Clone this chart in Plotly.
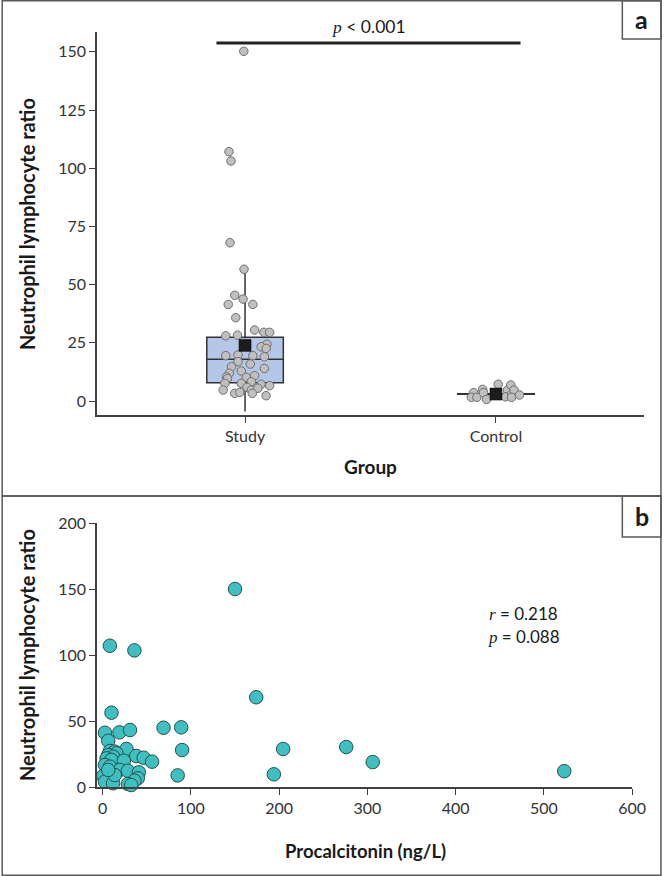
import plotly.graph_objects as go

# ---------------- data ----------------
groups = ["Study", "Control"]
group_pos = [0, 1]

study_nlr = [150.2, 107.1, 103.1, 68.0, 56.6, 45.4, 43.8, 41.5, 41.5, 35.8,
             30.5, 29.5, 29.5, 28.0, 28.3, 24.4, 23.3, 22.6, 19.5, 19.8,
             19.5, 19.0, 16.9, 15.9, 14.7, 14.0, 12.9, 11.9, 10.4, 9.7,
             10.2, 10.9, 7.6, 7.6, 8.3, 7.2, 6.6, 4.7, 5.9, 4.7,
             5.5, 3.3, 3.7, 3.3, 2.3]
study_jitter = [-0.005, -0.064, -0.056, -0.060, -0.004, -0.041, -0.008, -0.067, 0.031, -0.037,
                0.038, 0.075, 0.098, -0.077, -0.030, 0.087, 0.064, 0.084, -0.077, -0.028,
                0.031, 0.077, -0.028, 0.021, -0.054, 0.077, -0.015, -0.063, -0.074, -0.070,
                0.005, 0.038, -0.080, -0.015, 0.025, 0.064, 0.098, -0.087, 0.008, 0.025,
                0.051, -0.041, -0.021, 0.029, 0.084]

control_nlr = [3.6, 1.6, 1.6, 5.0, 3.6, 0.7, 7.2, 4.7, 6.9, 1.8, 2.9, 4.7, 1.6, 2.6]
control_jitter = [-0.089, -0.098, -0.076, -0.053, -0.050, -0.037, 0.009, 0.046, 0.059, 0.038,
                  0.062, 0.072, 0.062, 0.094]

# box statistics (q1, median, q3, lower whisker, upper whisker) and means
box_q1 = [7.9, 2.9]
box_median = [17.9, 3.0]
box_q3 = [27.4, 3.1]
box_lower = [-4.5, 2.9]
box_upper = [56.6, 3.1]
group_means = [23.9, 3.0]

# panel b: procalcitonin vs NLR
pct = [150, 174, 10, 69, 89, 2.6, 19, 31, 6.3, 90,
       204.5, 27, 38, 46.5, 56, 85, 194, 276, 306, 523,
       8.2, 13.7, 15.6, 6.3, 11.8, 4.5, 10, 24, 2.6, 8.2,
       19.3, 28.6, 41, 0.7, 39.8, 36, 2.6, 11.8, 28.6, 32.4,
       13.7, 6.3, 8.2, 36]
nlr = [150, 68.0, 56.3, 44.9, 45.2, 41.1, 41.4, 43.2, 35.0, 28.0,
       28.8, 28.8, 23.5, 22.2, 19.2, 8.8, 9.6, 30.3, 18.9, 12.0,
       27.3, 26.8, 25.5, 24.2, 23.0, 21.7, 20.5, 19.9, 16.7, 15.4,
       12.9, 12.3, 11.1, 8.3, 6.6, 4.8, 4.0, 2.8, 2.3, 1.5,
       9.1, 12.9, 107, 103.5]

a_yticks = [0, 25, 50, 75, 100, 125, 150]
b_yticks = [0, 50, 100, 150, 200]
b_xticks = [0, 100, 200, 300, 400, 500, 600]

# ---------------- layout helpers ----------------
W, H = 670, 876
ML, MR, MT, MB = 97, 18, 32, 89
PW, PH = W - ML - MR, H - MT - MB


def fx(px):
    return (px - ML) / PW


def fy(py):
    return (H - MB - py) / PH


FONT = "Lato, 'Open Sans', sans-serif"
AX = "#404040"

fig = go.Figure()

# box plots
for i in range(2):
    fig.add_trace(go.Box(
        x=[group_pos[i]], q1=[box_q1[i]], median=[box_median[i]], q3=[box_q3[i]],
        lowerfence=[box_lower[i]], upperfence=[box_upper[i]],
        width=0.305, whiskerwidth=0, boxpoints=False, fillcolor="#b4c7e7",
        line=dict(color="#333333", width=1.5), showlegend=False,
        xaxis="x", yaxis="y", hoverinfo="skip"))

# jittered points
fig.add_trace(go.Scatter(
    x=[group_pos[0] + j for j in study_jitter], y=study_nlr, mode="markers",
    marker=dict(size=8.5, color="#c0c0c0", line=dict(color="#6e6e6e", width=1)),
    showlegend=False, cliponaxis=False, xaxis="x", yaxis="y"))
fig.add_trace(go.Scatter(
    x=[group_pos[1] + j for j in control_jitter], y=control_nlr, mode="markers",
    marker=dict(size=8.5, color="#c0c0c0", line=dict(color="#6e6e6e", width=1)),
    showlegend=False, cliponaxis=False, xaxis="x", yaxis="y"))

# means
fig.add_trace(go.Scatter(
    x=group_pos, y=group_means, mode="markers",
    marker=dict(symbol="square", size=12, color="#1c1c1c", line=dict(color="#000", width=0.5)),
    showlegend=False, cliponaxis=False, xaxis="x", yaxis="y"))

# panel b scatter
fig.add_trace(go.Scatter(
    x=pct, y=nlr, mode="markers",
    marker=dict(size=13.5, color="#3fc0c0", line=dict(color="#24504f", width=1)),
    showlegend=False, cliponaxis=False, xaxis="x2", yaxis="y2"))

axis_common = dict(showline=True, linecolor=AX, linewidth=1.5, ticks="outside",
                   ticklen=6, tickwidth=1.2, tickcolor=AX, showgrid=False, zeroline=False,
                   tickfont=dict(family=FONT, size=16, color="#333333"))

fig.update_layout(
    width=W, height=H, margin=dict(l=ML, r=MR, t=MT, b=MB),
    paper_bgcolor="white", plot_bgcolor="white",
    xaxis=dict(domain=[0, 1], range=[-0.59, 1.59], tickvals=group_pos, ticktext=groups,
               anchor="y", **axis_common),
    yaxis=dict(domain=[fy(415), 1], range=[-6, 158.5], tickvals=a_yticks,
               anchor="x", **axis_common),
    xaxis2=dict(domain=[0, fx(640)], range=[-6.4, 600], tickvals=b_xticks,
                anchor="y2", **axis_common),
    yaxis2=dict(domain=[0, fy(523)], range=[0, 200], tickvals=b_yticks,
                anchor="x2", **axis_common),
)

# significance bar
fig.add_shape(type="line", xref="x", yref="y", x0=-0.114, x1=1.098, y0=153.8, y1=153.8,
              line=dict(color="#222222", width=3))

shapes_paper = [
    (0.8, 0.8, 669.2, 496),
    (0.8, 496, 669.2, 875.2),
    (630, 0.8, 669.2, 39),
    (630, 496, 669.2, 537),
]
for x0, y0, x1, y1 in shapes_paper:
    fig.add_shape(type="rect", xref="paper", yref="paper",
                  x0=fx(x0), x1=fx(x1), y0=fy(y0), y1=fy(y1),
                  line=dict(color="#5a5a5a", width=1.5), fillcolor="rgba(0,0,0,0)")

ann = [
    dict(x=fx(372), y=fy(27), text="<i><span style='font-family:Liberation Serif'>p</span></i> < 0.001",
         size=17.5),
    dict(x=fx(530), y=fy(613), text="<i><span style='font-family:Liberation Serif'>r</span></i> = 0.218",
         size=17),
    dict(x=fx(530), y=fy(636), text="<i><span style='font-family:Liberation Serif'>p</span></i> = 0.088",
         size=17),
    dict(x=fx(649.6), y=fy(19), text="<b>a</b>", size=25),
    dict(x=fx(649.6), y=fy(516), text="<b>b</b>", size=25),
    dict(x=fx(374), y=fy(466), text="<b>Group</b>", size=19),
    dict(x=fx(369), y=fy(851), text="<b>Procalcitonin (ng/L)</b>", size=18.5),
]
for a in ann:
    fig.add_annotation(x=a["x"], y=a["y"], xref="paper", yref="paper", text=a["text"],
                       showarrow=False, xanchor="center", yanchor="middle",
                       font=dict(family=FONT, size=a["size"], color="#1a1a1a"))

for cy in (224, 655):
    fig.add_annotation(x=fx(26), y=fy(cy), xref="paper", yref="paper",
                       text="<b>Neutrophil lymphocyte ratio</b>", textangle=-90,
                       showarrow=False, xanchor="center", yanchor="middle",
                       font=dict(family=FONT, size=20, color="#1a1a1a"))

fig.write_html("out.html", config={"displayModeBar": False},
               post_script="document.body.style.margin='0';document.body.style.padding='0';"
                           "document.documentElement.style.overflow='hidden';")
